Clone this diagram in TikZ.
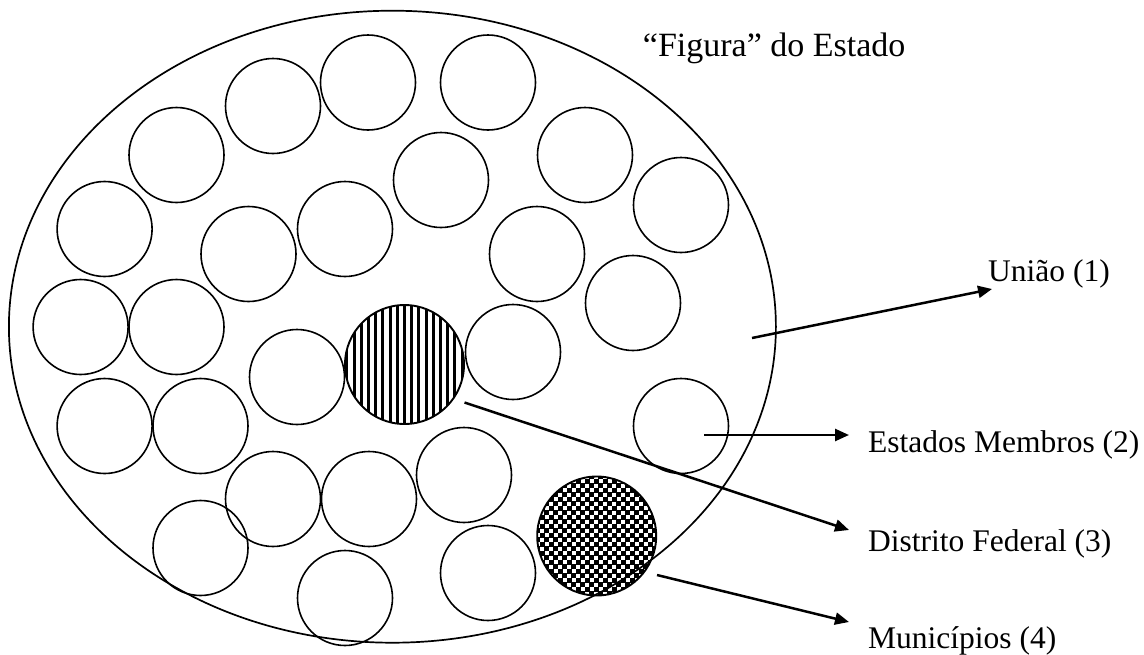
\documentclass[tikz,border=0pt]{standalone}
\usepackage{fontspec}
\setmainfont{Liberation Serif}
\usetikzlibrary{shapes.geometric,arrows.meta}
\begin{document}
\begin{tikzpicture}[x=1pt,y=-1pt,
  state/.style={circle,draw,line width=1.6pt,minimum size=95pt,inner sep=0pt},
  special/.style={circle,draw,line width=1.9pt,minimum size=119pt,inner sep=0pt},
  lbl/.style={anchor=base west,inner sep=0pt,font=\fontsize{31.5}{36}\selectfont},
  arr/.style={line width=2.5pt,-{Triangle[length=14pt,width=12pt]}}]
\useasboundingbox (0,0) rectangle (1144,654);
% outer ellipse
\node[ellipse,draw,line width=1.7pt,minimum width=767pt,minimum height=632pt,inner sep=0pt] (estado) at (392.4,326.7) {};
% member states
\foreach \n/\x/\y in {1/273/106, 2/368/82.5, 3/488/82.5, 4/176.5/155, 5/585/155,
  6/441/180, 7/104.6/229, 8/248.5/254, 9/345/229, 10/681/205, 11/537/254,
  12/633/303, 13/80.6/327, 14/176.5/327, 15/297/377, 17/513/352,
  18/104.6/426, 19/200.5/426, 20/681/426, 21/273/499, 22/369/499,
  23/464/475, 24/200.5/548, 26/488/573, 27/345/598}
  \node[state] (c\n) at (\x,\y) {};
% Distrito Federal: vertical stripes
\begin{scope}
  \clip (404.5,364.5) circle (59.5pt);
  \foreach \k in {-8,...,8}
    \draw[line width=3pt] ({404.5+\k*7.2},300) -- ++(0,130);
\end{scope}
\node[special] (df) at (404.5,364.5) {};
% Municipios: checker pattern
\begin{scope}
  \clip (596.7,536) circle (59.5pt);
  \foreach \i in {0,...,13}
    \foreach \j in {0,...,13} {
      \fill ({535+\i*9},{474+\j*9}) rectangle ++(5.2,5.2);
      \fill ({535+4.5+\i*9},{474+4.5+\j*9}) rectangle ++(5.2,5.2);
    }
\end{scope}
\node[special] (mun) at (596.7,536) {};
% labels
\node[anchor=base west,inner sep=0pt,font=\fontsize{34}{40}\selectfont] (title) at (642.7,56.7) {“Figura” do Estado};
\node[lbl] (tU) at (988,281.7) {União (1)};
\node[lbl] (tE) at (868,452) {Estados Membros (2)};
\node[lbl] (tD) at (868,551) {Distrito Federal (3)};
\node[lbl] (tM) at (868,648) {Municípios (4)};
% arrow end points
\coordinate (aU) at (752,338);
\coordinate (bU) at (992,289);
\coordinate (aE) at (704,435);
\coordinate (bE) at (849,435);
\coordinate (aD) at (464.5,402.5);
\coordinate (bD) at (849,530);
\coordinate (aM) at (657,575);
\coordinate (bM) at (849,622);
\draw[arr] (aU) -- (bU);
\draw[arr] (aE) -- (bE);
\draw[arr] (aD) -- (bD);
\draw[arr] (aM) -- (bM);
\end{tikzpicture}
\end{document}
